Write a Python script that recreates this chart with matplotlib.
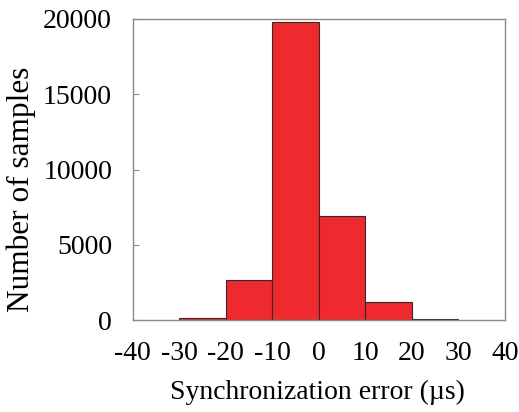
import matplotlib
matplotlib.use("Agg")
import matplotlib.pyplot as plt

plt.rcParams.update({"font.family": "serif", "font.serif": ["Liberation Serif", "DejaVu Serif"]})

bin_edges = [-30, -20, -10, 0, 10, 20, 30]
counts = [150, 2660, 19800, 6910, 1180, 60]
x_ticks = [-40, -30, -20, -10, 0, 10, 20, 30, 40]
y_ticks = [0, 5000, 10000, 15000, 20000]

BAR = "#ee2a2e"
EDGE = "#3a2626"
SPINE = "#8a8a8a"

fig = plt.figure(figsize=(5.19, 4.12), dpi=100)
ax = fig.add_axes([0.256, 0.223, 0.717, 0.731])

ax.bar(bin_edges[:-1], counts, width=10, align="edge", color=BAR, edgecolor=EDGE, linewidth=0.8)

ax.set_xlim(-40, 40)
ax.set_ylim(0, 20000)
ax.set_xticks(x_ticks)
ax.set_xticklabels([str(t) for t in x_ticks])
ax.set_yticks(y_ticks)
ax.set_yticklabels([str(t) for t in y_ticks])

for s in ax.spines.values():
    s.set_color(SPINE)
    s.set_linewidth(1.0)

ax.tick_params(axis="x", length=0, pad=15, labelsize=20)
ax.tick_params(axis="y", direction="in", length=4, color=SPINE, pad=15, labelsize=20)

ax.set_xlabel("Synchronization error (\u00b5s)", fontsize=20, va="center")
ax.xaxis.set_label_coords(0.496, -0.239)
ax.set_ylabel("Number of samples", fontsize=22.5, va="center")
ax.yaxis.set_label_coords(-0.30, 0.435)

fig.savefig("out.png", dpi=100, facecolor="white")
